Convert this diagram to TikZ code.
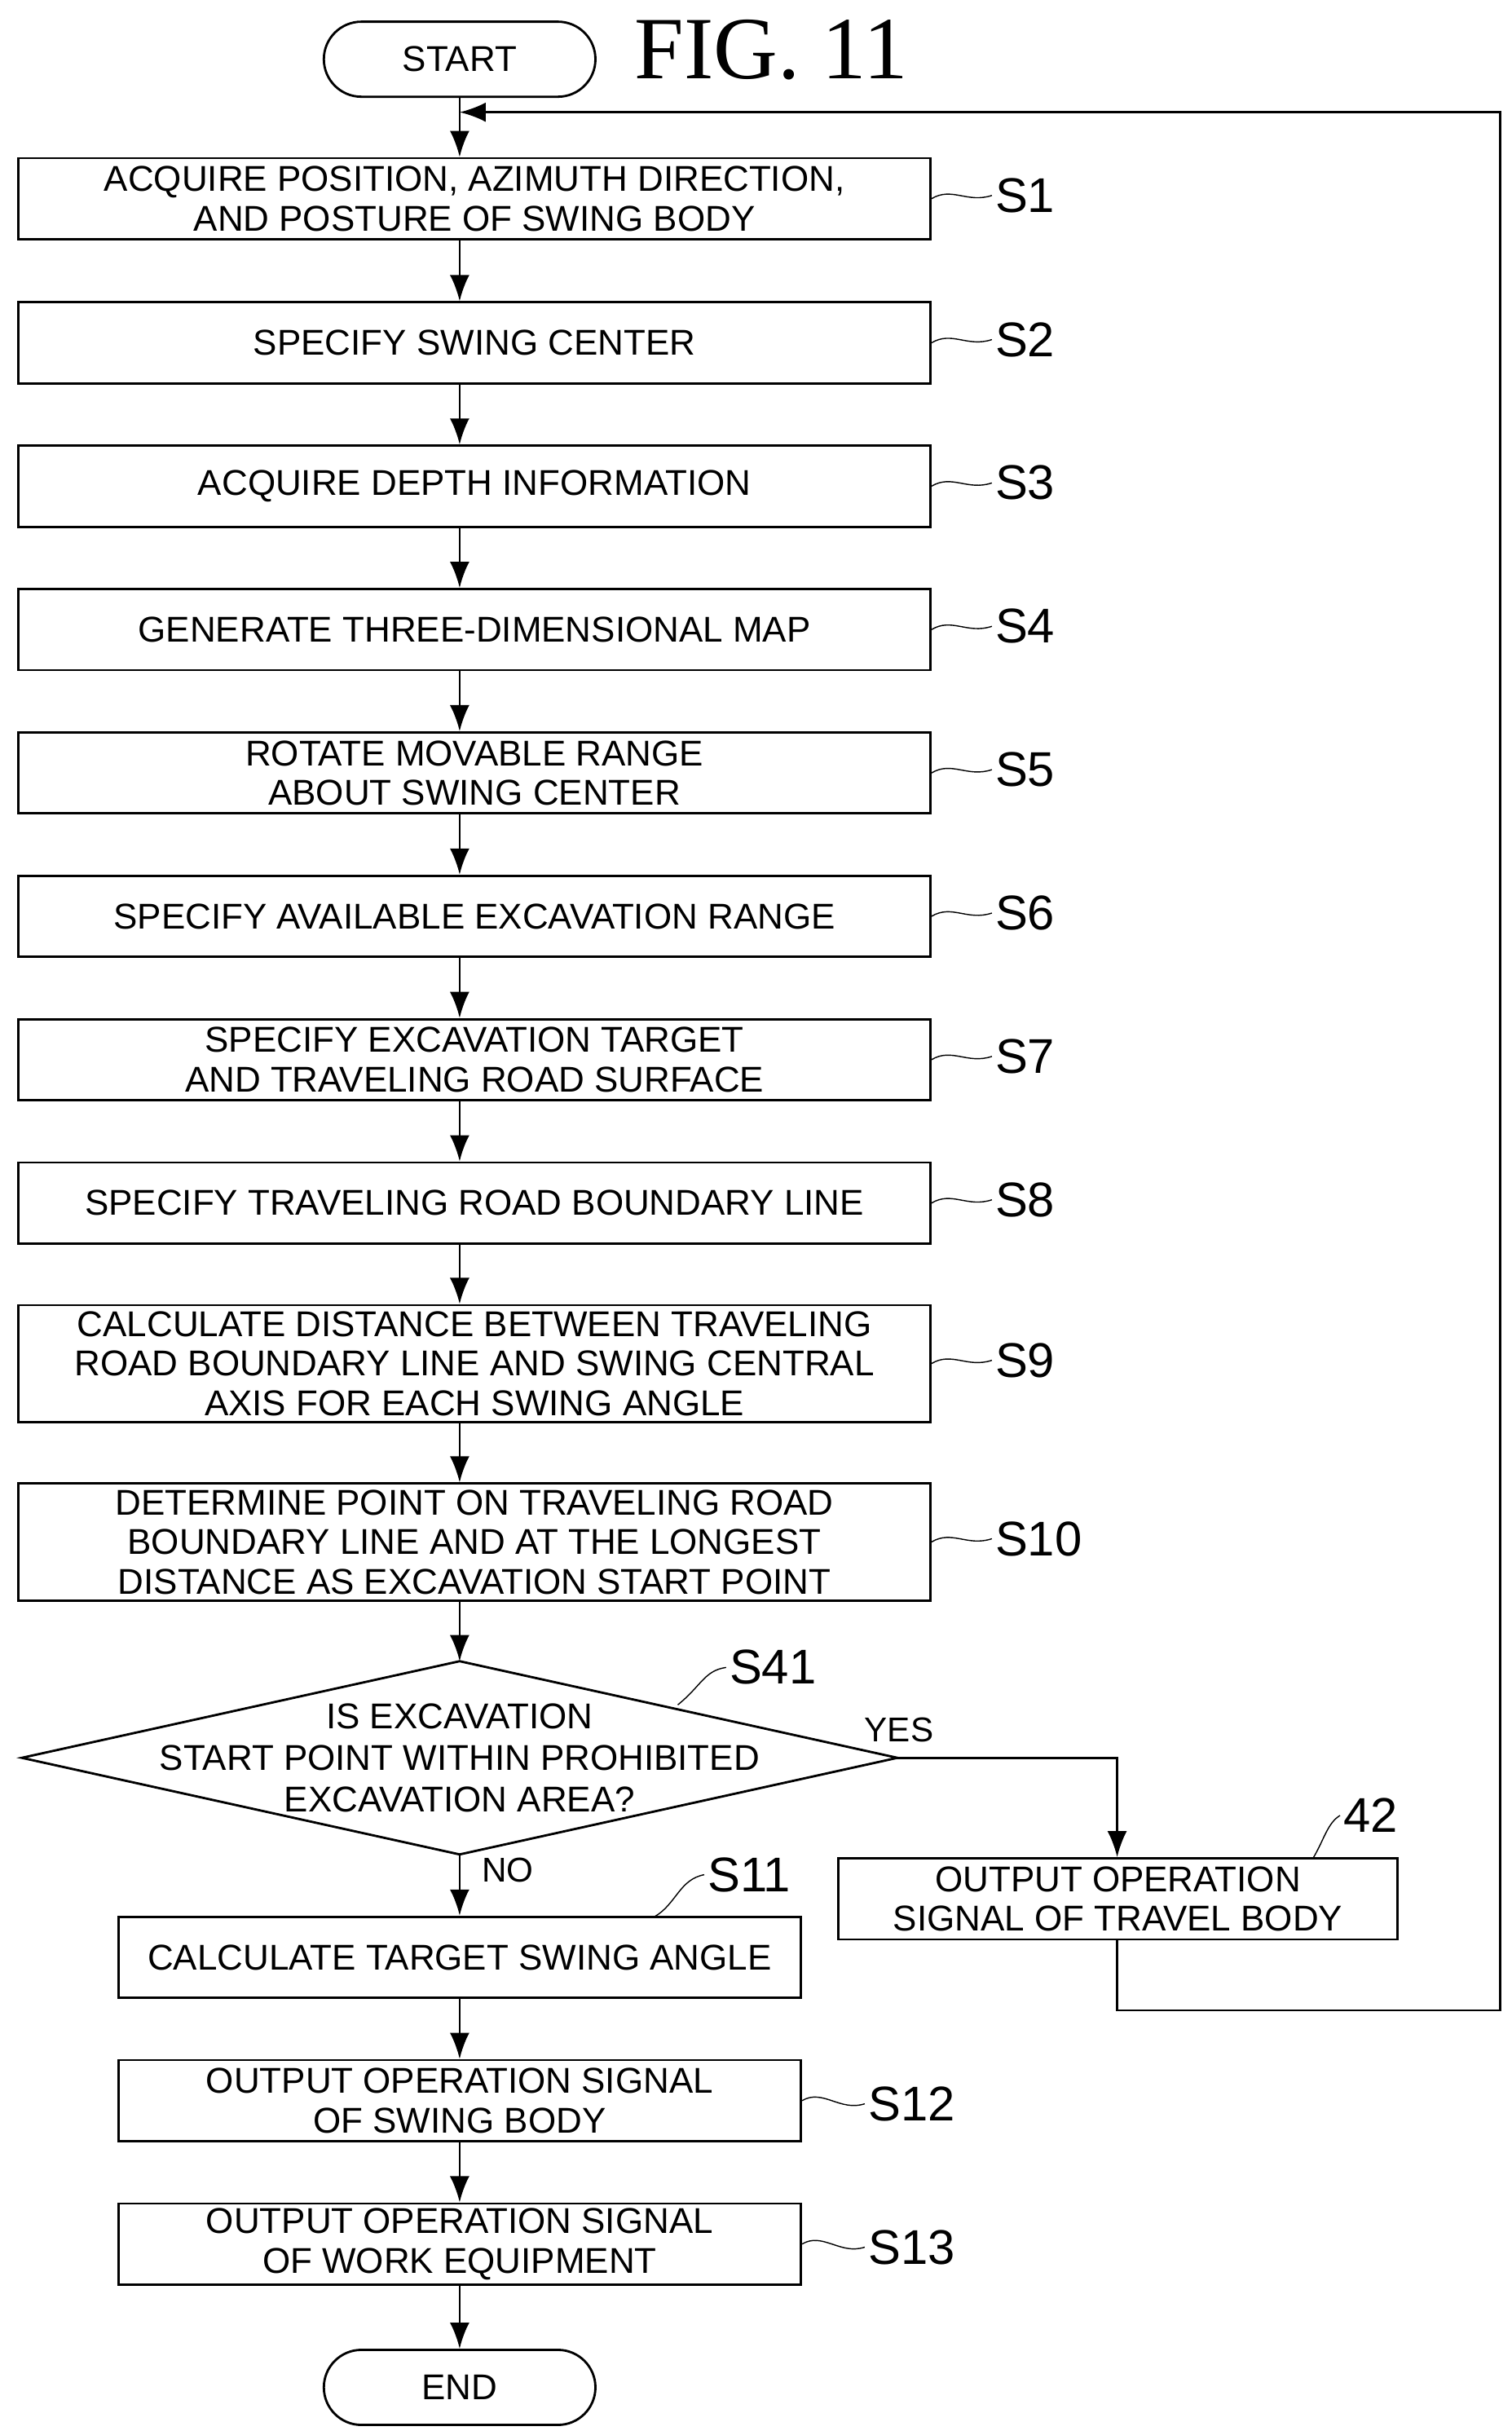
\documentclass[tikz,border=0pt]{standalone}
\usepackage{fontspec}
\setmainfont{Liberation Sans}
\newfontfamily\figfont{Liberation Serif}
\usetikzlibrary{positioning, arrows.meta}

\begin{document}
\begin{tikzpicture}[
    x=0.01911cm, y=-0.01911cm,
    procbox/.style={rectangle, draw=black, thick, minimum width=11.18cm, minimum height=0.994cm, align=center, inner sep=0pt, font=\fontsize{12.5}{13.8}\selectfont},
    tallbox/.style={procbox, minimum height=1.433cm},
    shortbox/.style={procbox, minimum width=8.37cm},
    term/.style={rectangle, rounded corners=0.46cm, draw=black, thick, minimum width=3.33cm, minimum height=0.92cm, font=\fontsize{12.5}{14}\selectfont},
    tag/.style={font=\fontsize{17}{17}\selectfont, anchor=west, inner sep=1pt},
    small/.style={font=\fontsize{12}{12}\selectfont, inner sep=1pt},
    arrow/.style={-{Latex[length=3.2mm, width=2.4mm]}, thick},
    leader/.style={thin}
]
\useasboundingbox (0,0) rectangle (970,1560);

% Start and title
\node[term] (start) at (295,38) {START};
\node[font=\figfont\fontsize{31}{31}\selectfont] (title) at (495,32) {FIG. 11};

% Steps
\node[procbox] (s1) at (304.5,127.5) {ACQUIRE POSITION, AZIMUTH DIRECTION,\\AND POSTURE OF SWING BODY};
\node[procbox] (s2) at (304.5,220) {SPECIFY SWING CENTER};
\node[procbox] (s3) at (304.5,312) {ACQUIRE DEPTH INFORMATION};
\node[procbox] (s4) at (304.5,404) {GENERATE THREE-DIMENSIONAL MAP};
\node[procbox] (s5) at (304.5,496) {ROTATE MOVABLE RANGE\\ABOUT SWING CENTER};
\node[procbox] (s6) at (304.5,588) {SPECIFY AVAILABLE EXCAVATION RANGE};
\node[procbox] (s7) at (304.5,680) {SPECIFY EXCAVATION TARGET\\AND TRAVELING ROAD SURFACE};
\node[procbox] (s8) at (304.5,772) {SPECIFY TRAVELING ROAD BOUNDARY LINE};
\node[tallbox] (s9) at (304.5,875) {CALCULATE DISTANCE BETWEEN TRAVELING\\ROAD BOUNDARY LINE AND SWING CENTRAL\\AXIS FOR EACH SWING ANGLE};
\node[tallbox] (s10) at (304.5,989.5) {DETERMINE POINT ON TRAVELING ROAD\\BOUNDARY LINE AND AT THE LONGEST\\DISTANCE AS EXCAVATION START POINT};

% Decision
\coordinate (dtop) at (295,1066);
\coordinate (dright) at (576,1128);
\coordinate (dbottom) at (295,1190);
\coordinate (dleft) at (14,1128);
\draw[thick] (dleft) -- (dtop) -- (dright) -- (dbottom) -- cycle;
\node[align=center, inner sep=0pt, font=\fontsize{12.5}{14.5}\selectfont] (s41) at (295,1128) {IS EXCAVATION\\START POINT WITHIN PROHIBITED\\EXCAVATION AREA?};

\node[shortbox] (s11) at (295,1256) {CALCULATE TARGET SWING ANGLE};
\node[shortbox] (s12) at (295,1348) {OUTPUT OPERATION SIGNAL\\OF SWING BODY};
\node[shortbox] (s13) at (295,1440) {OUTPUT OPERATION SIGNAL\\OF WORK EQUIPMENT};
\node[term] (finish) at (295,1532) {END};
\node[procbox, minimum width=6.86cm] (out42) at (717.5,1218.5) {OUTPUT OPERATION\\SIGNAL OF TRAVEL BODY};

% Main flow
\coordinate (loopin) at (295,72);
\draw[thick] (start.south) -- (loopin);
\draw[arrow] (loopin) -- (s1.north -| start.south);
\foreach \a/\b in {s1/s2, s2/s3, s3/s4, s4/s5, s5/s6, s6/s7, s7/s8, s8/s9, s9/s10}
    \draw[arrow] (\a.south -| start.south) -- (\b.north -| start.south);
\draw[arrow] (s10.south -| start.south) -- (dtop);
\draw[arrow] (dbottom) -- (s11.north);
\draw[arrow] (s11.south) -- (s12.north);
\draw[arrow] (s12.south) -- (s13.north);
\draw[arrow] (s13.south) -- (finish.north);

% Yes branch and loop back
\coordinate (yesturn) at (717,1128);
\coordinate (loopdown) at (717,1290);
\coordinate (loopright) at (963,1290);
\coordinate (looptop) at (963,72);
\draw[arrow] (dright) -- (yesturn) -- (out42.north -| yesturn);
\draw[arrow] (out42.south -| yesturn) -- (loopdown) -- (loopright) -- (looptop) -- (loopin);
\node[small] (yes) at (577,1110) {YES};
\node[small] (no) at (326,1200) {NO};

% Step tags
\foreach \s/\t in {s1/S1, s2/S2, s3/S3, s4/S4, s5/S5, s6/S6, s7/S7, s8/S8, s9/S9, s10/S10}
{
    \node[tag] (tag\s) at ([xshift=0.74cm, yshift=0.04cm]\s.east) {\t};
    \draw[leader] (\s.east) .. controls ++(0.25cm,0.15cm) and ++(-0.3cm,-0.1cm) .. (tag\s.west);
}
\node[tag] (tags41) at (466,1070) {S41};
\draw[leader] (435,1094) .. controls (450,1082) and (452,1072) .. (tags41.west);
\node[tag] (tag42) at (860,1165) {42};
\draw[leader] (843,1192) .. controls (850,1180) and (852,1170) .. (tag42.west);
\node[tag] (tags11) at (452,1203) {S11};
\draw[leader] (420,1230) .. controls (434,1222) and (436,1206) .. (tags11.west);
\node[tag] (tags12) at (555,1350) {S12};
\draw[leader] (s12.east) .. controls ++(0.25cm,0.15cm) and ++(-0.3cm,-0.1cm) .. (tags12.west);
\node[tag] (tags13) at (555,1442) {S13};
\draw[leader] (s13.east) .. controls ++(0.25cm,0.15cm) and ++(-0.3cm,-0.1cm) .. (tags13.west);

\end{tikzpicture}
\end{document}
